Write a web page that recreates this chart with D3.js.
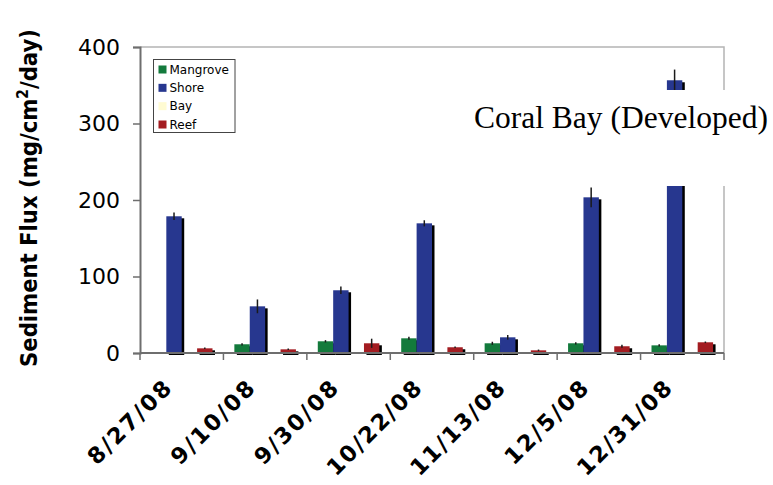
<!DOCTYPE html>
<html>
<head>
<meta charset="utf-8">
<script src="https://cdn.jsdelivr.net/npm/d3@7"></script>
<style>
  body { margin: 0; background: #fff; }
  svg { display: block; }
</style>
</head>
<body>
<svg id="chart" width="773" height="485"></svg>
<script>
// Sampling dates (categories)
const dates = ["8/27/08", "9/10/08", "9/30/08", "10/22/08", "11/13/08", "12/5/08", "12/31/08"];

// Series names, in legend order
const seriesNames = ["Mangrove", "Shore", "Bay", "Reef"];

// Sediment flux means (mg/cm²/day); null = no sample
const mangrove = [null, 11.4, 15.3, 19.2, 12.7, 12.7, 10.0];
const shore    = [178.7, 61.0, 82.0, 169.5, 20.5, 203.5, 356.5];
const bay      = [null, null, null, null, null, null, null];
const reef     = [6.1, 4.8, 12.7, 7.5, 3.5, 8.8, 14.0];

// Error half-widths for each series
const mangroveErr = [null, 1.5, 1.5, 2.0, 2.0, 1.5, 1.5];
const shoreErr    = [5.0, 9.0, 5.0, 4.0, 3.0, 13.0, 14.0];
const bayErr      = [null, null, null, null, null, null, null];
const reefErr     = [1.0, 1.0, 6.0, 1.0, 1.0, 2.0, 1.0];

// Y axis tick values
const yTicks = [0, 100, 200, 300, 400];

const seriesValues = [mangrove, shore, bay, reef];
const seriesErrors = [mangroveErr, shoreErr, bayErr, reefErr];
const seriesColors = ["#137a3c", "#27378f", "#fffbd2", "#a31c21"];

const svg = d3.select("#chart");
const plot = { left: 140, right: 724, top: 47, bottom: 353 };

const y = d3.scaleLinear().domain([0, 400]).range([plot.bottom, plot.top]);

const x0 = d3.scaleBand()
  .domain(dates)
  .range([plot.left, plot.right])
  .paddingInner(0.262)
  .paddingOuter(0.131);

const x1 = d3.scaleBand()
  .domain(seriesNames)
  .range([0, x0.bandwidth()])
  .padding(0);

// Light frame on the top and right of the plot area
svg.append("path")
  .attr("d", `M${plot.left},${plot.top}H${plot.right}V${plot.bottom}`)
  .attr("fill", "none")
  .attr("stroke", "#b4b4b4")
  .attr("stroke-width", 1.5);

// Bars with drop shadows
const rows = [];
dates.forEach((d, i) => {
  seriesNames.forEach((s, k) => {
    const v = seriesValues[k][i];
    if (v != null && v > 0) rows.push({ date: d, series: s, k, v, e: seriesErrors[k][i] });
  });
});

const barG = svg.append("g");
barG.selectAll("rect.shadow")
  .data(rows)
  .join("rect")
  .attr("class", "shadow")
  .attr("x", r => x0(r.date) + x1(r.series) + 2.5)
  .attr("y", r => y(r.v) + 2)
  .attr("width", x1.bandwidth())
  .attr("height", r => y(0) - y(r.v))
  .attr("fill", "#000");

barG.selectAll("rect.bar")
  .data(rows)
  .join("rect")
  .attr("class", "bar")
  .attr("x", r => x0(r.date) + x1(r.series))
  .attr("y", r => y(r.v))
  .attr("width", x1.bandwidth())
  .attr("height", r => y(0) - y(r.v))
  .attr("fill", r => seriesColors[r.k]);

// Error bars
barG.selectAll("line.err")
  .data(rows.filter(r => r.e != null))
  .join("line")
  .attr("class", "err")
  .attr("x1", r => x0(r.date) + x1(r.series) + x1.bandwidth() / 2)
  .attr("x2", r => x0(r.date) + x1(r.series) + x1.bandwidth() / 2)
  .attr("y1", r => y(r.v + r.e))
  .attr("y2", r => y(Math.max(0, r.v - r.e)))
  .attr("stroke", "#1a1a1a")
  .attr("stroke-width", 1.5);

// Y axis
const yAxis = svg.append("g")
  .attr("transform", `translate(${plot.left},0)`)
  .call(d3.axisLeft(y).tickValues(yTicks).tickSize(7).tickPadding(13).tickFormat(d3.format("d")));
yAxis.select(".domain").attr("stroke", "#6e6e6e").attr("stroke-width", 2);
yAxis.selectAll(".tick line").attr("stroke", "#6e6e6e").attr("stroke-width", 1.5);
yAxis.selectAll(".tick text")
  .attr("font-family", "Verdana, 'DejaVu Sans', sans-serif")
  .attr("font-size", 22)
  .attr("fill", "#000");

// X axis baseline with ticks between the date groups
const step = x0.step();
const xAxis = svg.append("g");
xAxis.append("line")
  .attr("x1", plot.left).attr("x2", plot.right)
  .attr("y1", y(0)).attr("y2", y(0))
  .attr("stroke", "#6e6e6e").attr("stroke-width", 2);
xAxis.selectAll("line.tick")
  .data(d3.range(dates.length + 1))
  .join("line")
  .attr("class", "tick")
  .attr("x1", i => plot.left + i * step)
  .attr("x2", i => plot.left + i * step)
  .attr("y1", y(0)).attr("y2", y(0) + 7)
  .attr("stroke", "#6e6e6e").attr("stroke-width", 1.5);

// Rotated date labels; length follows the wide-slash bold face
const labelSize = 22.5;
const labelLength = s => [...s].reduce((a, c) => a + (c === "/" ? 0.689 : 0.711), 0) * 21.8;
xAxis.selectAll("text.date")
  .data(dates)
  .join("text")
  .attr("class", "date")
  .attr("transform", d => `translate(${x0(d) + x0.bandwidth() / 2 - 9},390) rotate(-45)`)
  .attr("text-anchor", "end")
  .attr("font-family", "Verdana, 'DejaVu Sans', sans-serif")
  .attr("font-weight", "bold")
  .attr("font-size", labelSize)
  .attr("textLength", d => labelLength(d))
  .attr("lengthAdjust", "spacing")
  .text(d => d);

// Y axis title
const yTitle = svg.append("text")
  .attr("transform", "translate(37,198) rotate(-90)")
  .attr("text-anchor", "middle")
  .attr("font-family", "Verdana, 'DejaVu Sans', sans-serif")
  .attr("font-weight", "bold")
  .attr("font-size", 23)
  .attr("textLength", 338)
  .attr("lengthAdjust", "spacingAndGlyphs")
  .attr("fill", "#000");
yTitle.append("tspan").text("Sediment Flux (mg/cm");
yTitle.append("tspan").attr("font-size", 15).attr("dy", -9).text("2");
yTitle.append("tspan").attr("dy", 9).text("/day)");

// Legend
const legend = svg.append("g");
legend.append("rect")
  .attr("x", 153.5).attr("y", 59.5)
  .attr("width", 81.5).attr("height", 73)
  .attr("fill", "#fff")
  .attr("stroke", "#444").attr("stroke-width", 1);
const rowY = d3.scalePoint().domain(seriesNames).range([69.5, 124.5]);
const items = legend.selectAll("g.item")
  .data(seriesNames)
  .join("g")
  .attr("class", "item")
  .attr("transform", s => `translate(0,${rowY(s)})`);
items.append("rect")
  .attr("x", 158.5).attr("y", -4)
  .attr("width", 8).attr("height", 8)
  .attr("fill", (s, i) => seriesColors[i]);
items.append("text")
  .attr("x", 169.5).attr("dy", "0.36em")
  .attr("font-family", "Verdana, 'DejaVu Sans', sans-serif")
  .attr("font-size", 12)
  .attr("fill", "#000")
  .text(s => s);

// Site caption on a white text box
svg.append("rect")
  .attr("x", 462).attr("y", 90)
  .attr("width", 311).attr("height", 96)
  .attr("fill", "#fff");
svg.append("text")
  .attr("x", 474).attr("y", 128)
  .attr("font-family", "'Times New Roman', 'Liberation Serif', serif")
  .attr("font-size", 31.5)
  .attr("fill", "#000")
  .text("Coral Bay (Developed)");
</script>
</body>
</html>
